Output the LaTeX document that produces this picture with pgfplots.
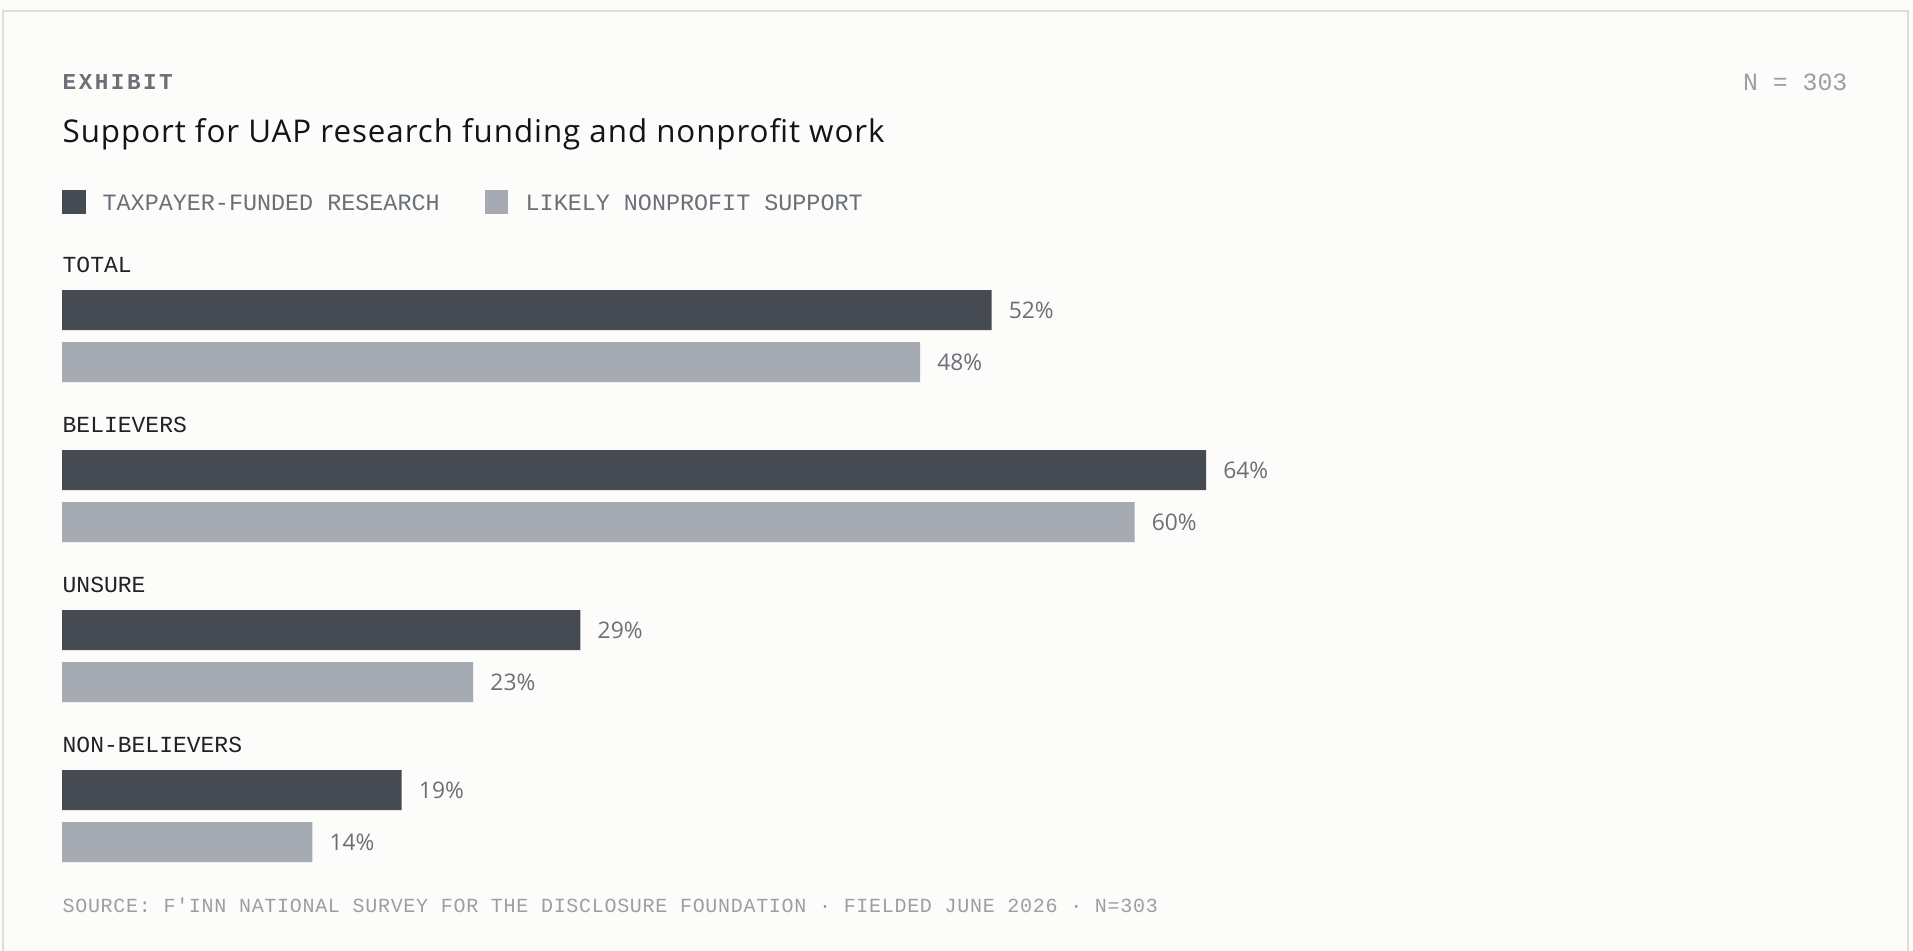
\documentclass[border=0pt]{standalone}
\usepackage{fontspec}
\setmainfont{Liberation Sans}
\newfontfamily\titlefont[LetterSpace=3]{Open Sans}
\newfontfamily\monofont{Liberation Mono}
\newfontfamily\monoexh[LetterSpace=11]{Liberation Mono}
\newfontfamily\monofoot[LetterSpace=3.5]{Liberation Mono}
\newfontfamily\pctfont{Open Sans}
\usepackage{pgfplots}
\pgfplotsset{compat=1.18}
\definecolor{bg}{HTML}{FCFCFA}
\definecolor{bordercol}{HTML}{E2DDD2}
\definecolor{darkbar}{HTML}{464A52}
\definecolor{lightbar}{HTML}{A6AAB2}
\definecolor{midgray}{HTML}{6B6F78}
\definecolor{lightgray2}{HTML}{9C9EA2}
\definecolor{titlecol}{HTML}{121418}
\definecolor{catcol}{HTML}{1F2328}
\begin{document}
\begin{tikzpicture}
\path[use as bounding box] (0pt,0pt) rectangle (573.9pt,-285.3pt);
\clip (0pt,0pt) rectangle (573.9pt,-285.3pt);
\begin{scope}[x=0.3pt,y=-0.3pt]
\fill[bg] (0,0) rectangle (1913,951);
\draw[bordercol, line width=0.6pt] (3.5,11) rectangle (1907.5,1000);
% header
\node[anchor=base west, inner sep=0, text=midgray, font=\monoexh\bfseries\fontsize{6.8}{8}\selectfont] at (62,90) {EXHIBIT};
\node[anchor=base east, inner sep=0, text=lightgray2, font=\monofont\fontsize{7.44}{9}\selectfont] at (1848,90.5) {N = 303};
\node[anchor=base west, inner sep=0, text=titlecol, font=\titlefont\fontsize{9.4}{11}\selectfont] at (62,143) {Support for UAP research funding and nonprofit work};
% legend
\fill[darkbar] (62,190) rectangle (85.5,213.7);
\node[anchor=base west, inner sep=0, text=midgray, font=\monofont\fontsize{7.02}{8}\selectfont] at (102,210.7) {TAXPAYER-FUNDED RESEARCH};
\fill[lightbar] (484.8,190) rectangle (508,213.7);
\node[anchor=base west, inner sep=0, text=midgray, font=\monofont\fontsize{7.02}{8}\selectfont] at (525,210.7) {LIKELY NONPROFIT SUPPORT};
% category labels
\foreach \lab/\yy in {TOTAL/272.5, BELIEVERS/432.5, UNSURE/592.5, NON-BELIEVERS/752.5}{
  \node[anchor=base west, inner sep=0, text=catcol, font=\monofont\fontsize{6.9}{8}\selectfont] at (62,\yy) {\lab};
}
% footer
\node[anchor=base west, inner sep=0, text=lightgray2, font=\monofoot\fontsize{6.0}{7}\selectfont] at (62,912.5) {SOURCE: F'INN NATIONAL SURVEY FOR THE DISCLOSURE FOUNDATION · FIELDED JUNE 2026 · N=303};
\end{scope}
\begin{axis}[
  at={(18.6pt,0pt)}, anchor=north west,
  scale only axis, width=536.25pt, height=285.3pt,
  xmin=0, xmax=100, ymin=0, ymax=951, y dir=reverse,
  hide axis, clip=false,
  xbar, bar width=12pt,
  point meta=x,
  nodes near coords={\pgfmathprintnumber[assume math mode=true]{\pgfplotspointmeta}\%},
  nodes near coords style={anchor=west, inner sep=0pt, xshift=5pt, text=midgray, font=\pctfont\fontsize{6.85}{8}\selectfont},
]
\addplot[fill=darkbar, draw=none, bar shift=0pt] coordinates {(52,310) (64,470) (29,630) (19,790)};
\addplot[fill=lightbar, draw=none, bar shift=0pt] coordinates {(48,362) (60,522) (23,682) (14,842)};
\end{axis}
\end{tikzpicture}
\end{document}
